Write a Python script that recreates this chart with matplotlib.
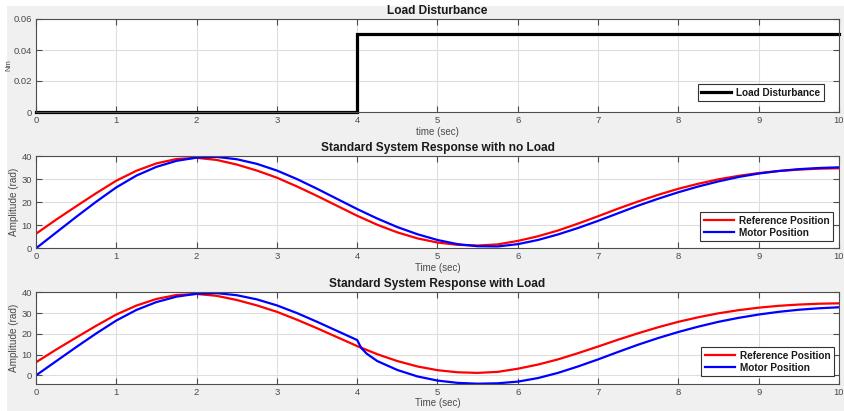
import matplotlib
matplotlib.use("Agg")
import matplotlib.pyplot as plt
from matplotlib.patches import Rectangle

plt.rcParams["font.family"] = ["Liberation Sans", "DejaVu Sans"]

# Load disturbance step (Nm)
t_dist = [0.0, 4.0, 4.0, 10.0]
load_dist = [0.0, 0.0, 0.05, 0.05]

# Common sample times (sec) for the position traces
t = [0.0, 0.25, 0.5, 0.75, 1.0, 1.25, 1.5, 1.75, 2.0, 2.25, 2.5, 2.75,
     3.0, 3.25, 3.5, 3.75, 4.0, 4.25, 4.5, 4.75, 5.0, 5.25, 5.5, 5.75,
     6.0, 6.25, 6.5, 6.75, 7.0, 7.25, 7.5, 7.75, 8.0, 8.25, 8.5, 8.75,
     9.0, 9.25, 9.5, 9.75, 10.0]

# Reference position (rad)
ref_pos = [6.3, 12.4, 18.2, 23.9, 29.3, 33.6, 36.8, 38.7, 39.2, 38.3, 36.3, 33.7,
           30.6, 26.8, 22.7, 18.4, 14.1, 10.2, 6.9, 4.3, 2.5, 1.5, 1.2, 1.7,
           3.2, 5.2, 7.7, 10.7, 13.9, 17.2, 20.3, 23.2, 25.8, 28.0, 29.9, 31.4,
           32.6, 33.5, 34.1, 34.5, 34.7]

# Motor position, no load (rad)
motor_noload = [0.0, 6.8, 13.6, 20.2, 26.4, 31.5, 35.3, 37.9, 39.3, 39.6, 38.6, 36.6,
                33.7, 30.0, 25.8, 21.4, 17.0, 12.9, 9.2, 6.1, 3.6, 1.8, 0.9, 0.8,
                1.8, 3.6, 6.0, 8.8, 11.9, 15.2, 18.5, 21.5, 24.3, 26.8, 29.0, 30.9,
                32.4, 33.5, 34.3, 34.8, 35.1]

# Motor position with load step at t = 4 s (rad)
t_load = [0.0, 0.25, 0.5, 0.75, 1.0, 1.25, 1.5, 1.75, 2.0, 2.25, 2.5, 2.75,
          3.0, 3.25, 3.5, 3.75, 4.0, 4.05, 4.12, 4.25, 4.5, 4.75, 5.0, 5.25,
          5.5, 5.75, 6.0, 6.25, 6.5, 6.75, 7.0, 7.25, 7.5, 7.75, 8.0, 8.25,
          8.5, 8.75, 9.0, 9.25, 9.5, 9.75, 10.0]
motor_load = [0.0, 6.8, 13.6, 20.2, 26.4, 31.5, 35.3, 37.9, 39.3, 39.6, 38.6, 36.6,
              33.7, 30.0, 25.8, 21.4, 17.0, 13.2, 10.4, 6.9, 2.6, -0.5, -2.5, -3.6,
              -4.0, -3.8, -3.0, -1.3, 1.2, 4.3, 7.7, 11.3, 14.8, 18.0, 20.9, 23.5,
              25.8, 27.7, 29.3, 30.6, 31.6, 32.3, 32.8]

xticks = list(range(0, 11))

BG = "#f0f0f0"
GRID = "#dedede"
AXCOL = "#4d4d4d"
TXT = "#4a4a4a"


def style_axes(ax, xlabel, ylabel, title, ylim, yticks, yfmt, ylab_size, ylab_x):
    ax.set_xlim(0, 10)
    ax.set_ylim(*ylim)
    ax.set_xticks(xticks)
    ax.set_yticks(yticks)
    ax.set_yticklabels([yfmt(v) for v in yticks])
    ax.grid(True, color=GRID, lw=0.8)
    ax.set_axisbelow(True)
    ax.tick_params(direction="in", top=True, right=True, length=4,
                   width=0.8, color=AXCOL, labelsize=6.8, labelcolor=TXT, pad=3)
    for sp in ax.spines.values():
        sp.set_color(AXCOL)
        sp.set_linewidth(0.8)
    ax.set_xlabel(xlabel, fontsize=7, color=TXT, labelpad=1)
    ax.set_ylabel(ylabel, fontsize=ylab_size, color=TXT)
    ax.yaxis.set_label_coords(ylab_x, 0.5)
    ax.set_title(title, fontsize=8.6, fontweight="bold", color="#1a1a1a", pad=3.5)


def add_legend(ax, anchor):
    leg = ax.legend(loc="lower right", bbox_to_anchor=anchor, borderaxespad=0,
                    fancybox=False, framealpha=1, edgecolor="#333333",
                    prop={"size": 7.2, "weight": "bold"},
                    handlelength=3.0, handletextpad=0.5, labelspacing=0.2,
                    borderpad=0.35)
    leg.get_frame().set_linewidth(0.8)
    for txt in leg.get_texts():
        txt.set_color("#1a1a1a")


fig = plt.figure(figsize=(8.45, 4.11), dpi=100, facecolor="white")
fig.patches.append(Rectangle((7 / 845, 0), 838 / 845, 405 / 411,
                             transform=fig.transFigure, facecolor=BG,
                             edgecolor="none", zorder=-1))

ax1 = fig.add_axes([36 / 845, 1 - 112 / 411, 803 / 845, 93 / 411])
ax2 = fig.add_axes([36 / 845, 1 - 248.3 / 411, 803 / 845, 92.3 / 411])
ax3 = fig.add_axes([36 / 845, 1 - 383.7 / 411, 803 / 845, 91.4 / 411])

# Load disturbance
ax1.plot(t_dist, load_dist, color="black", lw=2.3, label="Load Disturbance",
         clip_on=False, solid_joinstyle="miter")
style_axes(ax1, "time (sec)", "Nm", "Load Disturbance", (0, 0.06),
           [0, 0.02, 0.04, 0.06], lambda v: "0" if v == 0 else f"{v:.2f}",
           5.5, -0.030)
add_legend(ax1, (0.981, 0.118))

# Response without load
ax2.plot(t, ref_pos, color="#ff0000", lw=1.6, label="Reference Position")
ax2.plot(t, motor_noload, color="#0000ff", lw=1.6, label="Motor Position")
style_axes(ax2, "Time (sec)", "Amplitude (rad)",
           "Standard System Response with no Load", (0, 40),
           [0, 10, 20, 30, 40], lambda v: f"{v:d}", 7.2, -0.021)
add_legend(ax2, (0.9925, 0.079))

# Response with load
ax3.plot(t, ref_pos, color="#ff0000", lw=1.6, label="Reference Position")
ax3.plot(t_load, motor_load, color="#0000ff", lw=1.6, label="Motor Position")
style_axes(ax3, "Time (sec)", "Amplitude (rad)",
           "Standard System Response with Load", (-4, 40),
           [0, 10, 20, 30, 40], lambda v: f"{v:d}", 7.2, -0.021)
add_legend(ax3, (0.9938, 0.084))

fig.savefig("out.png", dpi=100, facecolor=fig.get_facecolor())
